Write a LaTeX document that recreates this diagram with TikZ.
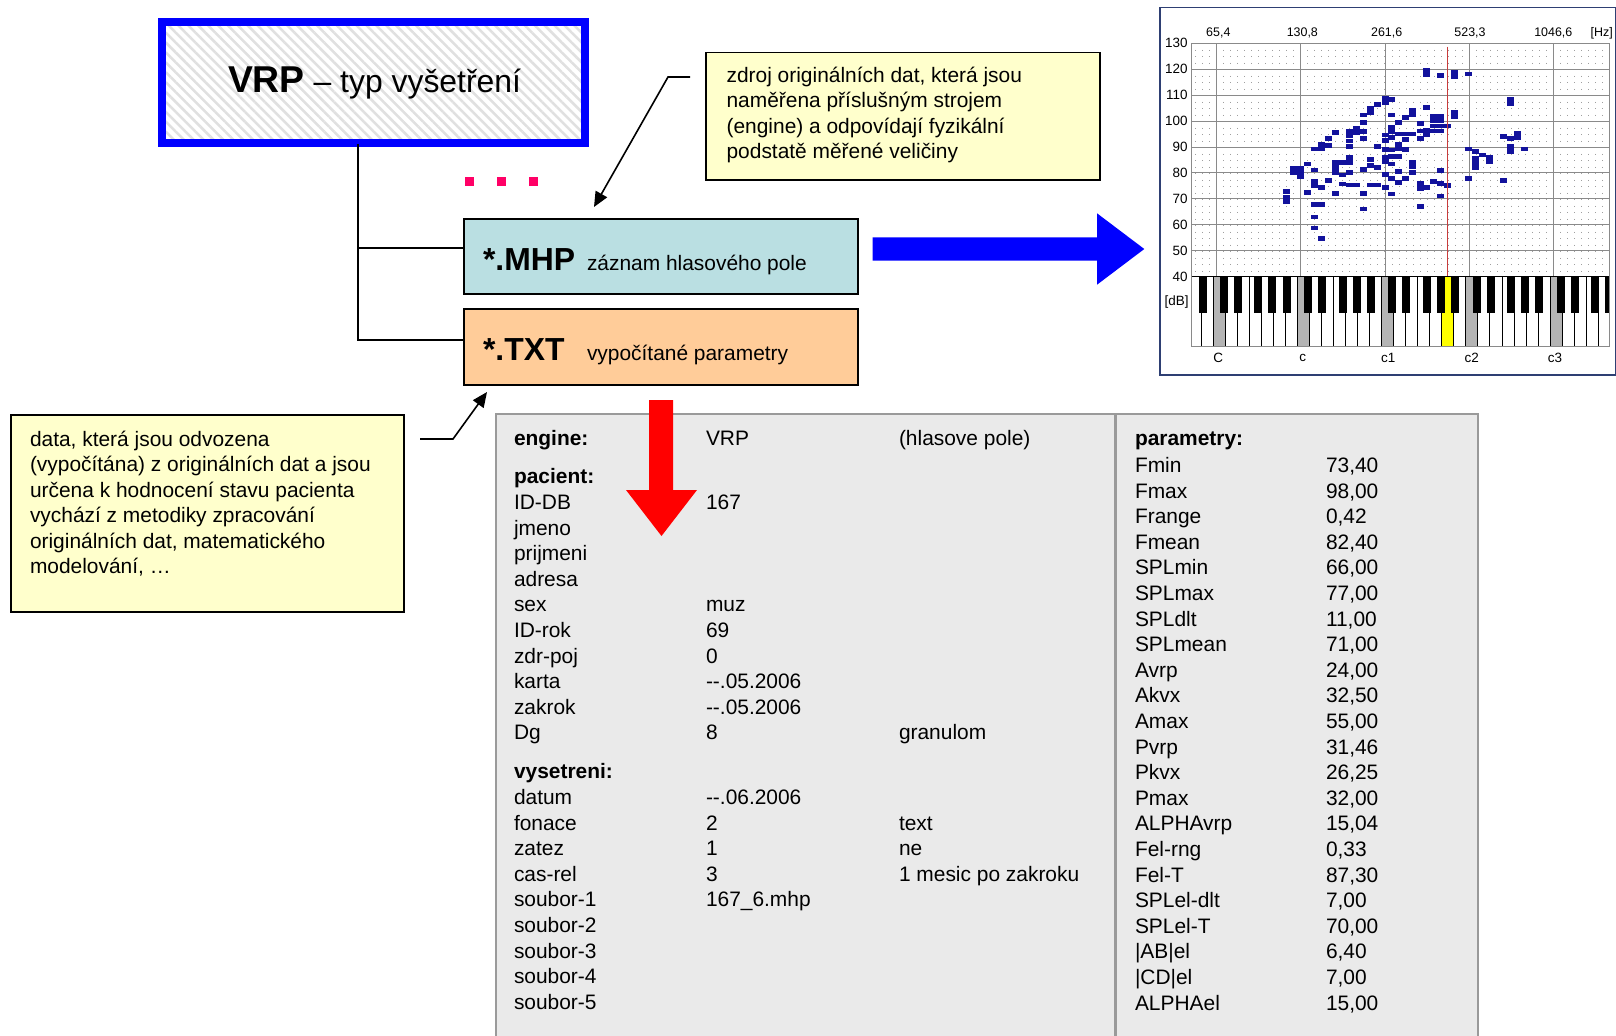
\documentclass[tikz,border=0pt]{standalone}
\usepackage{fontspec}
\setmainfont{Liberation Sans}
\usetikzlibrary{arrows.meta,patterns.meta}
\definecolor{vrpblue}{HTML}{0000FF}
\definecolor{mhpfill}{HTML}{BADFE2}
\definecolor{txtfill}{HTML}{FFCC99}
\definecolor{notefill}{HTML}{FFFFCC}
\definecolor{tabfill}{HTML}{EAEAEA}
\definecolor{tabline}{HTML}{9A9A9A}
\definecolor{dotpink}{HTML}{FF0066}
\definecolor{dpblue}{HTML}{12129C}
\definecolor{chartframe}{HTML}{2E3F73}
\definecolor{redline}{HTML}{C83C3C}
\definecolor{gridc}{HTML}{8A8A8A}
\definecolor{keygray}{HTML}{B4B4B4}
\definecolor{keyyellow}{HTML}{FFFF00}
\begin{document}
\begin{tikzpicture}[x=1bp,y=-1bp,
  lbl/.style={inner sep=0pt, outer sep=0pt},
  tabtext/.style={lbl, anchor=base west, font=\fontsize{21}{25}\selectfont},
  tabhead/.style={lbl, anchor=base west, font=\fontsize{21}{25}\selectfont\bfseries},
  filebox/.style={draw=black, line width=2bp, minimum width=394bp, minimum height=75bp, inner sep=0pt},
  notebox/.style={draw=black, line width=1.5bp, fill=notefill, inner sep=0pt},
  notetext/.style={lbl, anchor=north west, align=left, font=\fontsize{21}{25.6}\selectfont},
  treeline/.style={line width=2bp},
  callout/.style={line width=1.6bp, -{Triangle[length=15bp,width=13bp]}},
  chartlbl/.style={lbl, font=\fontsize{13.5}{14}\selectfont},
  hzlbl/.style={lbl, font=\fontsize{12.5}{14}\selectfont},
  datapt/.style={fill=dpblue},
]
\useasboundingbox (0,0) rectangle (1616,1035);
\fill[white] (0,0) rectangle (1616,1035);

% ---------- header ----------
\node[draw=vrpblue, line width=8bp, minimum width=423bp, minimum height=121bp, inner sep=0pt,
  pattern={Lines[angle=-45,distance=7bp,line width=2.5bp]}, pattern color=black!12] (vrp) at (373.5,82.5) {};
\node[lbl, anchor=base west] (vrpt) at (228,92) {{\fontsize{37.5}{40}\selectfont\bfseries VRP}{\fontsize{32}{36}\selectfont\ – typ vyšetření}};

% ---------- ellipsis squares ----------
\foreach \px in {469.5,501.5,533.5}
  \fill[dotpink] (\px-4.5,177) rectangle (\px+4.5,186);

% ---------- file boxes ----------
\node[filebox, fill=mhpfill] (mhp) at (661,256.5) {};
\node[lbl, anchor=base west] (mhpa) at (483,270) {\fontsize{32}{34}\selectfont\bfseries *.MHP};
\node[lbl, anchor=base west] (mhpb) at (587,270) {\fontsize{21}{25}\selectfont záznam hlasového pole};
\node[filebox, fill=txtfill, minimum height=76bp] (txt) at (661,347) {};
\node[lbl, anchor=base west] (txta) at (483,360) {\fontsize{32}{34}\selectfont\bfseries *.TXT};
\node[lbl, anchor=base west] (txtb) at (587,360) {\fontsize{21}{25}\selectfont vypočítané parametry};

% ---------- tree ----------
\coordinate (treetop) at (vrp.south -| 358,0);
\draw[treeline] (treetop) |- ([yshift=8.5bp]mhp.west);
\draw[treeline] (treetop) |- ([yshift=7bp]txt.west);

% ---------- notes ----------
\node[notebox, minimum width=394bp, minimum height=127.5bp] (note1) at (903,116.3) {};
\node[notetext] (note1t) at (726.6,64.6) {\strut zdroj originálních dat, která jsou\\naměřena příslušným strojem\\(engine) a odpovídají fyzikální\\podstatě měřené veličiny};
\node[notebox, minimum width=393bp, minimum height=197bp] (note2) at (207.5,513.5) {};
\node[notetext] (note2t) at (30,428.6) {\strut data, která jsou odvozena\\(vypočítána) z originálních dat a jsou\\určena k hodnocení stavu pacienta\\vychází z metodiky zpracování\\originálních dat, matematického\\modelování, …};

% ---------- callout arrows ----------
\coordinate (c1a) at (690,77);
\coordinate (c1b) at (668,77);
\coordinate (c1c) at (594,207);
\draw[callout] (c1a) -- (c1b) -- (c1c);
\coordinate (c2a) at (420,439);
\coordinate (c2b) at (453,439);
\coordinate (c2c) at (487,392);
\draw[callout] (c2a) -- (c2b) -- (c2c);

% ---------- blue block arrow ----------
\fill[vrpblue] (872.7,237.3) -- (1097,237.3) -- (1097,213.3) -- (1144.3,249) -- (1097,284.7) -- (1097,260.7) -- (872.7,260.7) -- cycle;

% ---------- table ----------
\node[draw=tabline, line width=2bp, fill=tabfill, minimum width=982bp, minimum height=626bp, inner sep=0pt] (tab) at (987,727) {};
\draw[tabline, line width=3bp] (tab.north -| 1115,0) -- (tab.south -| 1115,0);

\node[tabhead] (h1) at (514,445.5) {engine:};
\node[tabtext] (h1b) at (706,445.5) {VRP};
\node[tabtext] (h1c) at (899,445.5) {(hlasove pole)};
\node[tabhead] (h2) at (514,483.5) {pacient:};
\foreach \lab/\val/\ext [count=\i from 0] in {ID-DB/167/, jmeno//, prijmeni//, adresa//, sex/muz/, ID-rok/69/, zdr-poj/0/, karta/-{}-.05.2006/, zakrok/-{}-.05.2006/, Dg/8/granulom} {
  \node[tabtext] (pl\i) at (514,{509.5+25.6*\i}) {\lab};
  \node[tabtext] (pv\i) at (706,{509.5+25.6*\i}) {\val};
  \node[tabtext] (pe\i) at (899,{509.5+25.6*\i}) {\ext};
}
\node[tabhead] (h3) at (514,778.5) {vysetreni:};
\foreach \lab/\val/\ext [count=\i from 0] in {datum/-{}-.06.2006/, fonace/2/text, zatez/1/ne, cas-rel/3/1 mesic po zakroku, soubor-1/167\_6.mhp/, soubor-2//, soubor-3//, soubor-4//, soubor-5//} {
  \node[tabtext] (vl\i) at (514,{804.5+25.6*\i}) {\lab};
  \node[tabtext] (vv\i) at (706,{804.5+25.6*\i}) {\val};
  \node[tabtext] (ve\i) at (899,{804.5+25.6*\i}) {\ext};
}
\node[tabhead] (h4) at (1135,445.5) {parametry:};
\foreach \lab/\val [count=\i from 0] in {Fmin/{73,40}, Fmax/{98,00}, Frange/{0,42}, Fmean/{82,40}, SPLmin/{66,00}, SPLmax/{77,00}, SPLdlt/{11,00}, SPLmean/{71,00}, Avrp/{24,00}, Akvx/{32,50}, Amax/{55,00}, Pvrp/{31,46}, Pkvx/{26,25}, Pmax/{32,00}, ALPHAvrp/{15,04}, Fel-rng/{0,33}, Fel-T/{87,30}, SPLel-dlt/{7,00}, SPLel-T/{70,00}, |AB|el/{6,40}, |CD|el/{7,00}, ALPHAel/{15,00}} {
  \node[tabtext] (rl\i) at (1135,{472.5+25.6*\i}) {\lab};
  \node[tabtext] (rv\i) at (1326,{472.5+25.6*\i}) {\val};
}

% ---------- red block arrow ----------
\fill[red] (649,400) -- (673,400) -- (673,490) -- (697,490) -- (661.5,536) -- (626,490) -- (649,490) -- cycle;

% ---------- chart (coordinates in 1/3 px) ----------
\begin{scope}[shift={(1155,0)}, x=0.333333bp, y=-0.333333bp]
  \draw[chartframe, line width=1.5bp, fill=white] (15,22) rectangle (1382,1125);
  % minor dot grid
  \foreach \k in {-3,...,55}
    \draw[gray!75, line width=1bp, dash pattern=on 1bp off 5.5bp] ({185+21.04*\k},130) -- ({185+21.04*\k},830);
  % major grid
  \foreach \k in {0,...,9}
    \draw[gridc, line width=1bp] (110,{130+77.8*\k}) -- (1362,{130+77.8*\k});
  \foreach \k in {0,...,4}
    \draw[gridc, line width=1bp] ({185+252.5*\k},130) -- ({185+252.5*\k},830);
  % axis labels
  \foreach \t [count=\k from 0] in {130,120,110,100,90,80,70,60,50,40}
    \node[chartlbl, anchor=east] (db\k) at (98,{130+77.8*\k}) {\t};
  \node[chartlbl] (dbunit) at (65,905) {[dB]};
  \foreach \x/\t [count=\k] in {190/{65,4},442/{130,8},695/{261,6},945/{523,3},1195/{1046,6},1340/{[Hz]}}
    \node[hzlbl] (hz\k) at (\x,100) {\t};
  \foreach \x/\t [count=\k] in {190/C,443/c,700/c1,950/c2,1200/c3}
    \node[chartlbl] (nt\k) at (\x,1075) {\t};
  % data points
  \foreach \px/\py in {395/575, 415/505, 415/518, 437/505, 458/492, 458/578, 478/447, 478/510, 478/543, 478/557, 478/613, 478/651, 478/684, 500/562, 500/613, 500/715, 520/437, 520/415, 520/542, 542/398, 542/488, 542/503, 542/517, 542/580, 563/488, 563/525, 563/552, 584/423, 584/440, 584/473, 584/487, 584/518, 584/555, 605/555, 626/345, 626/368, 626/395, 626/415, 626/508, 626/580, 626/627, 647/325, 647/338, 647/478, 647/497, 647/555, 668/313, 668/440, 668/503, 668/555, 690/405, 690/422, 690/448, 690/523, 690/563, 710/298, 710/345, 710/413, 710/450, 710/470, 710/492, 710/535, 710/582, 731/368, 731/402, 731/470, 731/515, 731/547, 752/352, 752/402, 752/418, 752/448, 752/535, 773/402, 773/518, 795/370, 795/393, 795/415, 795/550, 795/565, 795/620, 815/323, 815/563, 836/378, 836/393, 836/545, 857/226, 857/378, 857/393, 857/512, 857/550, 857/588, 878/378, 878/557, 941/222, 941/447, 941/535, 962/455, 962/503, 983/465, 1046/410, 1046/542, 1067/415, 1067/438, 1108/447}
    \fill[datapt] (\px-10.5,\py-7) rectangle (\px+10.5,\py+7);
  \foreach \px/\py in {395/598, 437/525, 500/440, 584/402, 605/393, 690/302, 690/478, 710/388, 731/440, 773/338, 773/495, 815/217, 815/398, 836/357, 857/357, 899/223, 899/345, 962/483, 1004/480, 1067/305, 1067/450, 1088/408}
    \fill[datapt] (\px-10.5,\py-13.5) rectangle (\px+10.5,\py+13.5);
  % red marker line
  \draw[redline, line width=1bp] (877,140) -- (877,830);
  % keyboard
  \begin{scope}
    \clip (110,830) rectangle (1362,1040);
    \foreach \j in {0,...,35} {
      \pgfmathsetmacro{\kx}{102.9+36.07*\j}
      \pgfmathtruncatemacro{\km}{mod(\j,7)}
      \ifnum\km=2
        \draw[black, line width=0.8bp, fill=keygray] (\kx,830) rectangle (\kx+36.07,1040);
      \else
        \ifnum\j=21
          \draw[black, line width=0.8bp, fill=keyyellow] (\kx,830) rectangle (\kx+36.07,1040);
        \else
          \draw[black, line width=0.8bp, fill=white] (\kx,830) rectangle (\kx+36.07,1040);
        \fi
      \fi
    }
    \foreach \o in {-1,...,4}
      \foreach \off in {20,62,123,165,208}
        \fill[black] ({175+252.5*\o+\off},830) rectangle ({175+252.5*\o+\off+24},940);
  \end{scope}
  \draw[gridc, line width=1bp] (110,130) rectangle (1362,1040);
\end{scope}
\end{tikzpicture}
\end{document}
